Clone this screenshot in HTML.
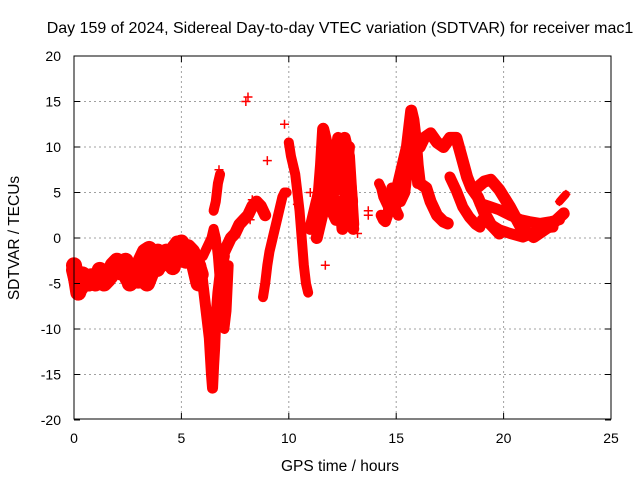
<!DOCTYPE html>
<html><head><meta charset="utf-8"><style>
body{margin:0;background:#fff}
svg{display:block;font-family:"Liberation Sans",sans-serif}
</style></head><body>
<svg id="chart" width="640" height="480" viewBox="0 0 640 480">
<text x="340" y="33" text-anchor="middle" font-size="16">Day 159 of 2024, Sidereal Day-to-day VTEC variation (SDTVAR) for receiver mac1</text>
<text x="340" y="471" text-anchor="middle" font-size="15.5">GPS time / hours</text>
<text transform="translate(19,238) rotate(-90)" text-anchor="middle" font-size="15.5">SDTVAR / TECUs</text>
<g id="grid"></g>
<g id="marks"></g>
<rect x="74" y="56" width="537" height="363" fill="none" stroke="#000" stroke-width="1"/>
<g id="ticks"></g>
</svg>
<script>
const xTicks=[0,5,10,15,20,25];
const yTicks=[-20,-15,-10,-5,0,5,10,15,20];
const trackT=[
[0,0.15,0.3,0.5,0.7,0.9,1.1,1.3,1.5,1.7,1.9,2.1,2.3,2.5,2.7,2.9,3.1,3.3,3.5,3.7,3.9,4.1,4.3,4.5,4.7,4.9,5.1,5.3,5.5,5.7,5.9],
[0,0.2,0.4,0.6,0.8,1.0,1.2,1.4,1.6,1.8,2.0,2.2,2.4,2.6,2.8,3.0,3.2,3.4,3.6,3.8,4.0,4.2,4.4,4.6,4.8,5.0,5.2,5.4,5.6,5.8],
[5.9,6.0,6.1,6.2,6.3,6.35,6.4,6.45,6.5,6.55,6.6,6.7,6.8,6.9,7.0],
[6.0,6.2,6.4,6.5,6.6,6.7,6.8,6.9,7.0,7.1,7.2],
[6.9,7.1,7.3,7.5,7.7,7.9,8.1,8.3,8.5,8.7,8.9],
[6.5,6.6,6.7,6.8],
[8.8,8.9,9.0,9.1,9.2,9.3,9.4,9.5,9.6,9.7,9.8,9.9],
[10.0,10.1,10.2,10.3,10.4,10.5,10.6,10.7,10.8,10.9],
[11.0,11.2,11.4,11.5,11.6,11.7,11.8,11.9,12.0,12.1,12.2,12.3,12.4,12.5,12.6,12.7,12.8,12.9,13.0],
[11.3,11.5,11.7,11.9,12.0,12.2,12.4,12.5,12.6,12.7,12.8],
[11.6,11.8,12.0,12.2,12.4,12.6,12.8,13.0],
[14.3,14.4,14.5,14.6,14.7,14.8,14.9,15.0,15.1],
[14.2,14.3,14.4,14.5,14.6],
[15.0,15.2,15.4,15.5,15.6,15.7,15.8,15.9,16.0,16.1,16.4,16.6,16.9,17.2,17.4],
[15.2,15.4,15.5,15.6,15.7,15.8,15.9,16.0],
[16.1,16.3,16.6,16.9,17.2,17.5,17.8,18.0,18.3,18.5,18.8,19.1,19.4,19.8],
[17.5,17.8,18.1,18.4,18.7,18.9],
[18.8,19.1,19.4,19.8,20.3,20.8,21.4,22.2,22.8],
[18.9,19.3,19.8,20.3,20.8,21.2,21.7,22.2,22.6],
[19.0,19.4,19.8,20.3,20.9,21.4,21.8,22.3],
[22.6,22.75,22.9],
[11.7,11.9,12.1,12.3,12.5,12.7,12.9],
[3.0,3.3,3.6,3.9,4.2,4.5,4.8,5.1,5.4]
];
const trackV=[
[-3.5,-5,-5.5,-4.8,-5,-4.5,-4,-4.5,-3.8,-4.2,-2.8,-3,-3,-4.5,-4.8,-4,-2.5,-1.5,-1.2,-2,-1.5,-2.5,-1.5,-2,-1,-2,-2,-1,-1.5,-2.5,-4],
[-3,-6,-4,-5,-4.2,-5,-3.5,-5,-4.5,-3,-2.5,-3.8,-2.5,-5,-4,-3.2,-4.6,-5,-3.8,-2.5,-3,-1.8,-2.5,-3.2,-1,-0.5,-2.5,-1.5,-3,-5],
[-3,-5,-7,-9,-11,-13,-15,-16.5,-14,-12,-9,-6,-4,-3,-2],
[-2,-1,0,1,0,-2,-5,-8,-10,-8,-3],
[-2,-1,0,0.5,1.5,2,2.5,3.5,4,3.5,2.5],
[3,4,6,7],
[-6.5,-5,-3,-1.5,-0.5,0.5,1.5,2.5,3.5,4.5,5,5],
[10.5,9,8,7,5,3,0,-3,-5,-6],
[1,3,5,8,12,11,10,6,8,5,9,11,6,10,8,7,5,2,1],
[0,2,4,6,3,2,4,1,3,8,10],
[9,7,10,7,8,11,9,1.5],
[2.5,2,1.8,2.5,4,5.5,4,3,2.5],
[6,5.5,4.5,4,3.5],
[5,7,9,10,12,14,13,11,8,6,5.5,4,2.5,1.8,1.6],
[4,5,7,9,11,12,9,6],
[10,11,11.5,10.5,10,11,11,9.3,6.7,5.5,4.5,2.8,1.5,0.5],
[6.7,5.2,3.4,2.3,1.5,1.2],
[5.6,6.2,6.4,5.3,3.4,1.2,0.1,1.4,2.7],
[3.8,3.5,3.1,2.5,2,1.8,1.6,1.8,2],
[2,1.5,0.9,0.5,0.1,0.6,1.1,1.2],
[4,4.4,4.8],
[5,8,6,9,7,9,4],
[-4.8,-4.2,-2.8,-3.5,-2.2,-1.5,-0.5,-1.5,-2.5]
];
const isoT=[8.1,8.0,9.8,9.0,8.3,8.2,11.0,10.4,11.7,13.7,13.7,13.2,6.75];
const isoV=[15.5,15,12.5,8.5,4.2,2,5,3.7,-3,3,2.5,0.5,7.5];
const widths=[16,16,11,10,12,10,10,10,12,12,12,11,10,12,11,12,11,12,11,11,8,14,14];
const NS="http://www.w3.org/2000/svg";
const X=t=>74+t*537/25;
const Y=v=>238-v*9.1;
const grid=document.getElementById('grid'),ticks=document.getElementById('ticks'),marks=document.getElementById('marks');
function mk(tag,attrs,parent){const e=document.createElementNS(NS,tag);for(const k in attrs)e.setAttribute(k,attrs[k]);parent.appendChild(e);return e;}
xTicks.forEach(t=>{
  const x=X(t);
  if(t>0&&t<25){const g=mk('line',{x1:x,y1:56,x2:x,y2:419,stroke:'#a0a0a0','stroke-dasharray':'2,3'},grid);
  
  }
  const lb=mk('text',{x:x,y:443,'text-anchor':'middle','font-size':14},ticks);lb.textContent=t;
  
  
  mk('line',{x1:x,y1:419,x2:x,y2:413,stroke:'#000'},ticks);
  mk('line',{x1:x,y1:56,x2:x,y2:62,stroke:'#000'},ticks);
});
yTicks.forEach(v=>{
  const y=Y(v);
  if(v>-20&&v<20){const g=mk('line',{x1:74,y1:y,x2:611,y2:y,stroke:'#a0a0a0','stroke-dasharray':'2,3'},grid);
  
  }
  const lb=mk('text',{x:61,y:y+5,'text-anchor':'end','font-size':14},ticks);lb.textContent=v;
  
  
  mk('line',{x1:74,y1:y,x2:80,y2:y,stroke:'#000'},ticks);
  mk('line',{x1:611,y1:y,x2:605,y2:y,stroke:'#000'},ticks);
});
function plus(t,v){
  const x=X(t),y=Y(v);
  const p=mk('path',{d:`M${x-4.5},${y}H${x+4.5}M${x},${y-4.5}V${y+4.5}`,stroke:'#f00','stroke-width':1.5,fill:'none'},marks);
  
  
}
trackT.forEach((ts,i)=>{
  const vs=trackV[i];
  const pts=ts.map((t,j)=>X(t)+','+Y(vs[j])).join(' ');
  const pl=mk('polyline',{points:pts,fill:'none',stroke:'#f00','stroke-width':widths[i]||10,'stroke-linejoin':'round','stroke-linecap':'round'},marks);
  
  
  ts.forEach((t,j)=>plus(t,vs[j]));
});
isoT.forEach((t,i)=>plus(t,isoV[i]));
</script>
</body></html>
